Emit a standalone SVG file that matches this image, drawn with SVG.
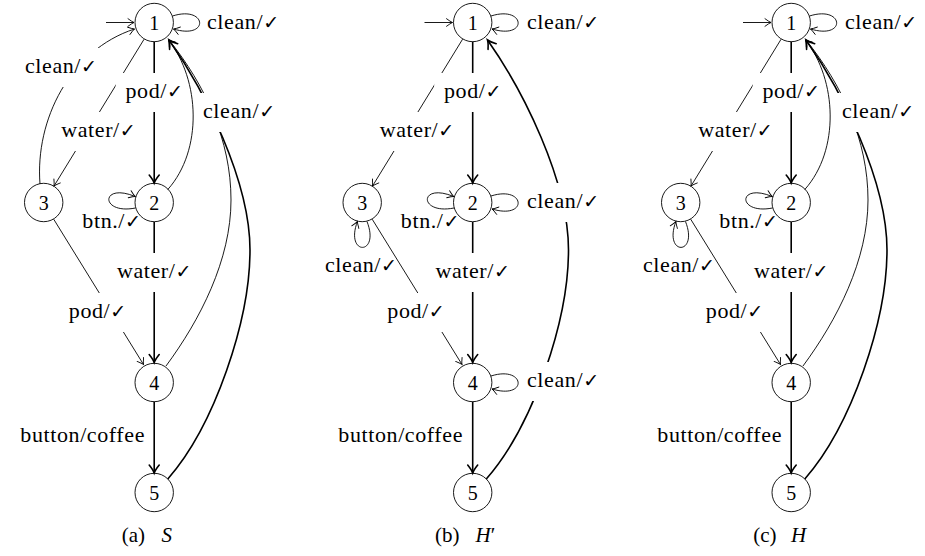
<svg xmlns="http://www.w3.org/2000/svg" width="925" height="556" viewBox="0 0 925 556">
<style>
.thin{fill:none;stroke:#000;stroke-width:0.9;marker-end:url(#ah)}
.thick{fill:none;stroke:#000;stroke-width:1.6;marker-end:url(#ahk)}
.nd{fill:none;stroke:#000;stroke-width:0.9}
.bg{fill:#fff;stroke:none}
.l{font-family:"Liberation Serif",serif;font-size:22px;fill:#000;text-anchor:middle;letter-spacing:0.6px}
.ls{text-anchor:start}
.le{text-anchor:end}
.ck{font-family:"DejaVu Sans",sans-serif;font-size:19px;letter-spacing:0}
.n{font-family:"Liberation Serif",serif;font-size:20px;fill:#000;text-anchor:middle}
.cap{font-family:"Liberation Serif",serif;font-size:21px;fill:#000}
.it{font-style:italic}
</style>
<defs>
<marker id="ah" viewBox="-10 -6 12 12" markerWidth="12" markerHeight="12" refX="0" refY="0" orient="auto" markerUnits="userSpaceOnUse">
<path d="M -6 -3.8 Q -2 -0.8 0 0 Q -2 0.8 -6 3.8" fill="none" stroke="#000" stroke-width="0.9" stroke-linecap="round"/>
</marker>
<marker id="ahk" viewBox="-12 -8 16 16" markerWidth="16" markerHeight="16" refX="0" refY="0" orient="auto" markerUnits="userSpaceOnUse">
<path d="M -8 -5 Q -3 -1 0 0 Q -3 1 -8 5" fill="none" stroke="#000" stroke-width="1.6" stroke-linecap="round"/>
</marker>
</defs>
<rect width="925" height="556" fill="#fff"/>

<!-- Panel (a) -->
<g id="panel-a">
<g id="a-connectors">
<path class="thin" d="M 106 22.5 L 134 22.5"/>
<path class="thin" d="M 172.5 16 C 207 5 210 40 173.5 29"/>
<text class="l ls" x="207" y="29">clean/<tspan class="ck">✓</tspan></text>
<path class="thin" d="M 40 184 C 35 120 70 50 134.5 29"/>
<rect class="bg" x="12" y="48" width="91" height="39"/>
<text class="l le" x="97" y="73">clean/<tspan class="ck">✓</tspan></text>
<path class="thin" d="M 144.1 39.2 L 54 186"/>
<rect class="bg" x="52" y="112" width="95" height="39"/>
<text class="l" x="98.5" y="137">water/<tspan class="ck">✓</tspan></text>
<path class="thick" d="M 154.2 41.7 L 154.2 183"/>
<rect class="bg" x="115.7" y="73" width="77" height="39"/>
<text class="l" x="154.2" y="98">pod/<tspan class="ck">✓</tspan></text>
<path class="thin" d="M 167.8 189.5 C 203 150 200 80 168.5 40"/>
<path class="thin" d="M 135.5 208 C 100 215 100 182 135.2 196.5"/>
<text class="l le" x="141" y="228">btn./<tspan class="ck">✓</tspan></text>
<path class="thick" d="M 154.2 222 L 154.2 362.5"/>
<rect class="bg" x="107.7" y="253" width="95" height="39"/>
<text class="l" x="154.2" y="278">water/<tspan class="ck">✓</tspan></text>
<path class="thin" d="M 53.7 219.2 L 143.5 364.5"/>
<rect class="bg" x="59" y="293" width="77" height="39"/>
<text class="l" x="97.5" y="318">pod/<tspan class="ck">✓</tspan></text>
<path class="thin" d="M 166 366 C 200 320 231 260 231 200 C 231 140 205 85 169 40"/>
<path class="thick" d="M 167.8 479 C 215 425 250 320 250 250 C 250 180 203.8 89.2 169 40"/>
<rect class="bg" x="197" y="93" width="92" height="39"/>
<text class="l ls" x="203" y="118">clean/<tspan class="ck">✓</tspan></text>
<path class="thick" d="M 154.2 401.7 L 154.2 473"/>
<text class="l le" x="145" y="442">button/coffee</text>
</g>
<g id="a-n1"><circle class="nd" cx="154.2" cy="22.5" r="19.2"/><text class="n" x="154.2" y="29.5">1</text></g>
<g id="a-n2"><circle class="nd" cx="154.2" cy="202.5" r="19.2"/><text class="n" x="154.2" y="209.5">2</text></g>
<g id="a-n3"><circle class="nd" cx="43.7" cy="202.5" r="19.2"/><text class="n" x="43.7" y="209.5">3</text></g>
<g id="a-n4"><circle class="nd" cx="154.2" cy="382.5" r="19.2"/><text class="n" x="154.2" y="389.5">4</text></g>
<g id="a-n5"><circle class="nd" cx="154.2" cy="492.5" r="19.2"/><text class="n" x="154.2" y="499.5">5</text></g>
<text class="cap" y="541.5"><tspan x="121.7">(a)</tspan><tspan class="it" x="161.5">S</tspan></text>
</g>

<!-- Panel (b) -->
<g id="panel-b" transform="translate(318.5,0)">
<g id="b-connectors">
<path class="thin" d="M 106 22.5 L 134 22.5"/>
<path class="thin" d="M 172.5 16 C 207 5 210 40 173.5 29"/>
<text class="l ls" x="208.5" y="29">clean/<tspan class="ck">✓</tspan></text>
<path class="thin" d="M 144.1 39.2 L 54 186"/>
<rect class="bg" x="52" y="112" width="95" height="39"/>
<text class="l" x="98.5" y="137">water/<tspan class="ck">✓</tspan></text>
<path class="thick" d="M 154.2 41.7 L 154.2 183"/>
<rect class="bg" x="115.7" y="73" width="77" height="39"/>
<text class="l" x="154.2" y="98">pod/<tspan class="ck">✓</tspan></text>
<path class="thin" d="M 135.5 208 C 100 215 100 182 135.2 196.5"/>
<text class="l le" x="141" y="228">btn./<tspan class="ck">✓</tspan></text>
<path class="thin" d="M 48.5 221.5 C 62 256 26 256 38.9 221.5"/>
<text class="l" x="42.5" y="272">clean/<tspan class="ck">✓</tspan></text>
<path class="thick" d="M 154.2 222 L 154.2 362.5"/>
<rect class="bg" x="107.7" y="253" width="95" height="39"/>
<text class="l" x="154.2" y="278">water/<tspan class="ck">✓</tspan></text>
<path class="thin" d="M 53.7 219.2 L 143.5 364.5"/>
<rect class="bg" x="59" y="293" width="77" height="39"/>
<text class="l" x="97.5" y="318">pod/<tspan class="ck">✓</tspan></text>
<path class="thick" d="M 154.2 401.7 L 154.2 473"/>
<text class="l le" x="144.5" y="442">button/coffee</text>
<path class="thick" d="M 167.8 479 C 215 425 250 320 250 250 C 250 180 203.8 89.2 169 40"/>
<path class="thin" d="M 172.5 196 C 207 185 210 220 173.5 209"/>
<rect class="bg" x="202" y="183" width="90" height="39"/>
<text class="l ls" x="208.5" y="208">clean/<tspan class="ck">✓</tspan></text>
<path class="thin" d="M 172.5 376 C 207 365 210 400 173.5 389"/>
<rect class="bg" x="202" y="362" width="90" height="39"/>
<text class="l ls" x="208.5" y="387">clean/<tspan class="ck">✓</tspan></text>
</g>
<g id="b-n1"><circle class="nd" cx="154.2" cy="22.5" r="19.2"/><text class="n" x="154.2" y="29.5">1</text></g>
<g id="b-n2"><circle class="nd" cx="154.2" cy="202.5" r="19.2"/><text class="n" x="154.2" y="209.5">2</text></g>
<g id="b-n3"><circle class="nd" cx="43.7" cy="202.5" r="19.2"/><text class="n" x="43.7" y="209.5">3</text></g>
<g id="b-n4"><circle class="nd" cx="154.2" cy="382.5" r="19.2"/><text class="n" x="154.2" y="389.5">4</text></g>
<g id="b-n5"><circle class="nd" cx="154.2" cy="492.5" r="19.2"/><text class="n" x="154.2" y="499.5">5</text></g>
<text class="cap" y="541.5"><tspan x="116.5">(b)</tspan><tspan class="it" x="157">H</tspan><tspan>′</tspan></text>
</g>

<!-- Panel (c) -->
<g id="panel-c" transform="translate(637,0)">
<g id="c-connectors">
<path class="thin" d="M 106 22.5 L 134 22.5"/>
<path class="thin" d="M 172.5 16 C 207 5 210 40 173.5 29"/>
<text class="l ls" x="208" y="29">clean/<tspan class="ck">✓</tspan></text>
<path class="thin" d="M 144.1 39.2 L 54 186"/>
<rect class="bg" x="52" y="112" width="95" height="39"/>
<text class="l" x="98.5" y="137">water/<tspan class="ck">✓</tspan></text>
<path class="thick" d="M 154.2 41.7 L 154.2 183"/>
<rect class="bg" x="115.7" y="73" width="77" height="39"/>
<text class="l" x="154.2" y="98">pod/<tspan class="ck">✓</tspan></text>
<path class="thin" d="M 167.8 189.5 C 203 150 200 80 168.5 40"/>
<path class="thin" d="M 135.5 208 C 100 215 100 182 135.2 196.5"/>
<text class="l le" x="141" y="228">btn./<tspan class="ck">✓</tspan></text>
<path class="thin" d="M 48.5 221.5 C 62 256 26 256 38.9 221.5"/>
<text class="l" x="42" y="272">clean/<tspan class="ck">✓</tspan></text>
<path class="thick" d="M 154.2 222 L 154.2 362.5"/>
<rect class="bg" x="107.7" y="253" width="95" height="39"/>
<text class="l" x="154.2" y="278">water/<tspan class="ck">✓</tspan></text>
<path class="thin" d="M 53.7 219.2 L 143.5 364.5"/>
<rect class="bg" x="59" y="293" width="77" height="39"/>
<text class="l" x="97.5" y="318">pod/<tspan class="ck">✓</tspan></text>
<path class="thin" d="M 166 366 C 200 320 231 260 231 200 C 231 140 205 85 169 40"/>
<path class="thick" d="M 167.8 479 C 215 425 250 320 250 250 C 250 180 203.8 89.2 169 40"/>
<rect class="bg" x="197" y="93" width="92" height="39"/>
<text class="l ls" x="205" y="118">clean/<tspan class="ck">✓</tspan></text>
<path class="thick" d="M 154.2 401.7 L 154.2 473"/>
<text class="l le" x="145" y="442">button/coffee</text>
</g>
<g id="c-n1"><circle class="nd" cx="154.2" cy="22.5" r="19.2"/><text class="n" x="154.2" y="29.5">1</text></g>
<g id="c-n2"><circle class="nd" cx="154.2" cy="202.5" r="19.2"/><text class="n" x="154.2" y="209.5">2</text></g>
<g id="c-n3"><circle class="nd" cx="43.7" cy="202.5" r="19.2"/><text class="n" x="43.7" y="209.5">3</text></g>
<g id="c-n4"><circle class="nd" cx="154.2" cy="382.5" r="19.2"/><text class="n" x="154.2" y="389.5">4</text></g>
<g id="c-n5"><circle class="nd" cx="154.2" cy="492.5" r="19.2"/><text class="n" x="154.2" y="499.5">5</text></g>
<text class="cap" y="541.5"><tspan x="116.3">(c)</tspan><tspan class="it" x="154">H</tspan></text>
</g>
</svg>
